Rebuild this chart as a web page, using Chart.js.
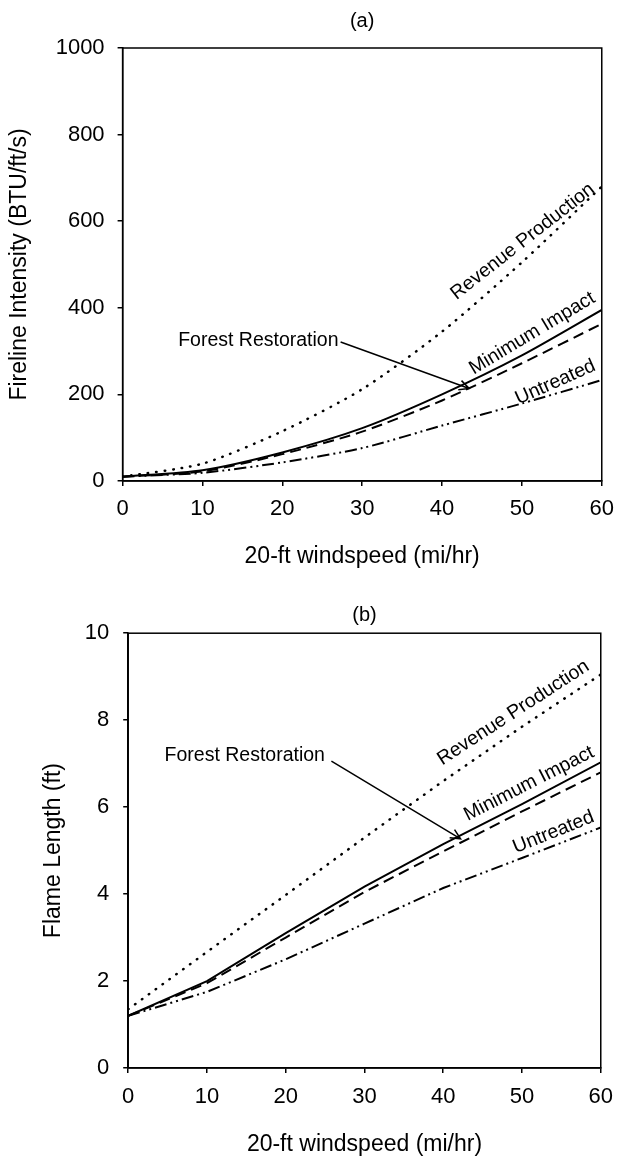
<!DOCTYPE html>
<html>
<head>
<meta charset="utf-8">
<script src="https://cdn.jsdelivr.net/npm/chart.js@4"></script>
<style>
  html, body { margin: 0; padding: 0; background: #fff; }
  .panel { position: absolute; left: 0; width: 624px; }
  #wrapA { top: 0; height: 580px; }
  #wrapB { top: 580px; height: 577px; }
</style>
</head>
<body>
<div class="panel" id="wrapA"><canvas id="intensityChart" width="624" height="580"></canvas></div>
<div class="panel" id="wrapB"><canvas id="flameChart" width="624" height="577"></canvas></div>
<script>
// windspeed (mi/hr)
const windspeed = [0, 10, 20, 30, 40, 50, 60];

// (a) fireline intensity, BTU/ft/s
const intensityRevenue   = [10, 40, 115, 212, 345, 505, 680];
const intensityMinimum   = [10, 25, 66, 122, 200, 290, 395];
const intensityForest    = [10, 22, 62, 114, 186, 272, 363];
const intensityUntreated = [10, 19, 43, 76, 128, 179, 233];

// (b) flame length, ft
const flameRevenue   = [1.35, 2.67, 3.98, 5.3, 6.6, 7.85, 9.05];
const flameMinimum   = [1.2, 2.0, 3.1, 4.17, 5.15, 6.07, 7.03];
const flameForest    = [1.2, 1.95, 3.0, 4.05, 4.98, 5.9, 6.8];
const flameUntreated = [1.2, 1.75, 2.5, 3.32, 4.14, 4.83, 5.53];

const xTicks = [0, 10, 20, 30, 40, 50, 60];
const intensityTicks = [0, 200, 400, 600, 800, 1000];
const flameTicks = [0, 2, 4, 6, 8, 10];

const FONT = '"Liberation Sans", Arial, sans-serif';
Chart.defaults.font.family = FONT;
Chart.defaults.color = '#000';

function pts(ys) {
    return windspeed.map((w, i) => ({ x: w, y: ys[i] }));
}

function series(rev, min, forest, untreated, tension) {
    const base = { borderColor: '#000', pointRadius: 0, fill: false, tension: tension };
    return [
        Object.assign({}, base, { label: 'Revenue Production', data: pts(rev), borderWidth: 2.5, borderDash: [0.5, 8], borderCapStyle: 'round' }),
        Object.assign({}, base, { label: 'Minimum Impact', data: pts(min), borderWidth: 2 }),
        Object.assign({}, base, { label: 'Forest Restoration', data: pts(forest), borderWidth: 2, borderDash: [11, 6] }),
        Object.assign({}, base, { label: 'Untreated', data: pts(untreated), borderWidth: 2, borderDash: [12, 4, 2, 4, 2, 4] })
    ];
}

// frame, rotated curve labels and the Forest Restoration arrow
const notesPlugin = {
    id: 'notes',
    afterDatasetsDraw(chart, args, opts) {
        const { ctx, chartArea, scales } = chart;
        const x = scales.x, y = scales.y;
        ctx.save();
        ctx.strokeStyle = '#000';
        ctx.lineWidth = 1.5;
        ctx.strokeRect(chartArea.left, chartArea.top, chartArea.right - chartArea.left, chartArea.bottom - chartArea.top);

        ctx.fillStyle = '#000';
        ctx.font = '19.5px ' + FONT;
        ctx.textAlign = 'center';
        ctx.textBaseline = 'middle';
        opts.labels.forEach(l => {
            ctx.save();
            ctx.translate(x.getPixelForValue(l.x), y.getPixelForValue(l.y));
            ctx.rotate(-l.angle * Math.PI / 180);
            ctx.fillText(l.text, 0, 0);
            ctx.restore();
        });

        const a = opts.arrow;
        const x0 = x.getPixelForValue(a.from[0]), y0 = y.getPixelForValue(a.from[1]);
        const x1 = x.getPixelForValue(a.to[0]), y1 = y.getPixelForValue(a.to[1]);
        const ang = Math.atan2(y1 - y0, x1 - x0);
        ctx.lineWidth = 1.5;
        ctx.beginPath();
        ctx.moveTo(x0, y0);
        ctx.lineTo(x1, y1);
        ctx.moveTo(x1 - 11 * Math.cos(ang - 0.45), y1 - 11 * Math.sin(ang - 0.45));
        ctx.lineTo(x1, y1);
        ctx.lineTo(x1 - 11 * Math.cos(ang + 0.45), y1 - 11 * Math.sin(ang + 0.45));
        ctx.stroke();
        ctx.restore();
    }
};

function makeChart(id, cfg) {
    const ctx = document.getElementById(id).getContext('2d');
    return new Chart(ctx, {
        type: 'line',
        data: { datasets: cfg.datasets },
        plugins: [notesPlugin],
        options: {
            responsive: false,
            animation: false,
            layout: { padding: { left: 0, right: cfg.right, top: 0, bottom: 0 }, autoPadding: false },
            plugins: {
                legend: { display: false },
                tooltip: { enabled: false },
                title: {
                    display: true,
                    fullSize: false,
                    text: cfg.title,
                    font: { size: 20, weight: 'normal', lineHeight: 1.2 },
                    padding: cfg.titlePad
                },
                notes: cfg.notes
            },
            scales: {
                x: {
                    type: 'linear',
                    min: 0, max: 60,
                    afterBuildTicks: s => { s.ticks = xTicks.map(v => ({ value: v })); },
                    afterFit: s => { s.height = cfg.xHeight; },
                    grid: { display: true, drawOnChartArea: false, drawTicks: true, tickLength: 5, color: '#000', lineWidth: 1.5 },
                    border: { display: true, color: '#000', width: 1.5 },
                    ticks: { font: { size: 22 }, padding: cfg.xTickPad, maxRotation: 0, callback: v => String(v) },
                    title: { display: true, text: '20-ft windspeed (mi/hr)', font: { size: 23, lineHeight: 1 }, padding: { top: 0, bottom: cfg.xTitlePad } }
                },
                y: {
                    type: 'linear',
                    min: cfg.yTicks[0], max: cfg.yTicks[cfg.yTicks.length - 1],
                    afterBuildTicks: s => { s.ticks = cfg.yTicks.map(v => ({ value: v })); },
                    afterFit: s => { s.width = cfg.yWidth; },
                    grid: { display: true, drawOnChartArea: false, drawTicks: true, tickLength: 5, color: '#000', lineWidth: 1.5 },
                    border: { display: true, color: '#000', width: 1.5 },
                    ticks: { font: { size: 22 }, padding: cfg.yTickPad, callback: v => String(v) },
                    title: { display: true, text: cfg.yTitle, font: { size: 23, lineHeight: 1 }, padding: { top: cfg.yTitlePad, bottom: 0 } }
                }
            }
        }
    });
}

makeChart('intensityChart', {
    title: '(a)',
    titlePad: { top: 9, bottom: 15 },
    yTitle: 'Fireline Intensity (BTU/ft/s)',
    yTicks: intensityTicks,
    datasets: series(intensityRevenue, intensityMinimum, intensityForest, intensityUntreated, 0.25),
    right: 19, xHeight: 99, yWidth: 122.6,
    xTickPad: 10, xTitlePad: 11.5, yTickPad: 13, yTitlePad: 8.5,
    notes: {
        labels: [
            { text: 'Revenue Production', x: 50.1, y: 553, angle: 38 },
            { text: 'Minimum Impact', x: 51.3, y: 341, angle: 31 },
            { text: 'Untreated', x: 54.2, y: 228, angle: 24 },
            { text: 'Forest Restoration', x: 17.0, y: 325, angle: 0 }
        ],
        arrow: { from: [27.3, 321], to: [43.4, 213.6] }
    }
});

makeChart('flameChart', {
    title: '(b)',
    titlePad: { top: 23.6, bottom: 5.6 },
    yTitle: 'Flame Length (ft)',
    yTicks: flameTicks,
    datasets: series(flameRevenue, flameMinimum, flameForest, flameUntreated, 0),
    right: 12.5, xHeight: 89, yWidth: 128.2,
    xTickPad: 11, xTitlePad: 0.5, yTickPad: 14, yTitlePad: 42.5,
    notes: {
        labels: [
            { text: 'Revenue Production', x: 48.9, y: 8.17, angle: 33 },
            { text: 'Minimum Impact', x: 50.9, y: 6.54, angle: 27 },
            { text: 'Untreated', x: 54.0, y: 5.42, angle: 22 },
            { text: 'Forest Restoration', x: 14.8, y: 7.18, angle: 0 }
        ],
        arrow: { from: [25.8, 7.06], to: [42.2, 5.27] }
    }
});
</script>
</body>
</html>
